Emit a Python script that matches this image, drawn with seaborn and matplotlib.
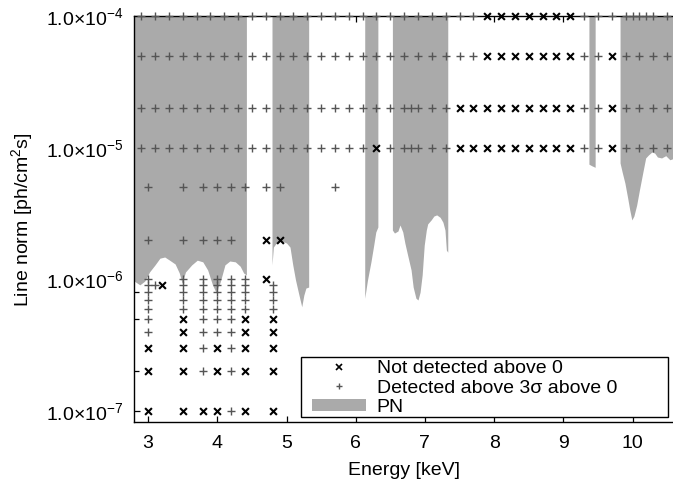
import matplotlib
matplotlib.use("Agg")
import matplotlib.pyplot as plt
import numpy as np
import pandas as pd
import seaborn as sns
from matplotlib.lines import Line2D
from matplotlib.patches import Patch, Rectangle
from matplotlib.ticker import FixedLocator, NullFormatter

sns.set_theme(style="ticks")
plt.rcParams["font.family"] = ["Liberation Sans", "DejaVu Sans"]
plt.rcParams["mathtext.fontset"] = "custom"
plt.rcParams["mathtext.rm"] = "Liberation Sans"
plt.rcParams["mathtext.it"] = "Liberation Sans:italic"
plt.rcParams["mathtext.bf"] = "Liberation Sans:bold"
plt.rcParams["mathtext.default"] = "regular"
plt.rcParams["text.color"] = "black"
plt.rcParams["axes.labelcolor"] = "black"

# ---------------------------------------------------------------- data
# Line normalisations probed (ph/cm^2/s)
norm_levels = [1e-4, 5e-5, 2e-5, 1e-5, 5e-6, 2e-6, 1e-6, 9e-7, 8e-7,
               7e-7, 6e-7, 5e-7, 4e-7, 3e-7, 2e-7, 1e-7]

# energies (keV) of trial lines detected above 3 sigma, one list per norm level
detected_energies = [
    [2.9, 3.1, 3.3, 3.5, 3.7, 3.9, 4.1, 4.3, 4.5, 4.7, 4.9, 5.1, 5.3, 5.5, 5.7,
     5.9, 6.1, 6.3, 6.5, 6.7, 6.9, 7.1, 7.3, 7.5, 7.7,
     9.3, 9.5, 9.7, 9.9, 10.0, 10.1, 10.2, 10.3, 10.5],
    [2.9, 3.1, 3.3, 3.5, 3.7, 3.9, 4.1, 4.3, 4.5, 4.7, 4.9, 5.1, 5.3, 5.5, 5.7,
     5.9, 6.1, 6.3, 6.5, 6.7, 6.9, 7.1, 7.3, 7.5, 7.7,
     9.3, 9.5, 9.9, 10.1, 10.3, 10.5],
    [2.9, 3.1, 3.3, 3.5, 3.7, 3.9, 4.1, 4.3, 4.5, 4.7, 4.9, 5.1, 5.3, 5.5, 5.7,
     5.9, 6.1, 6.3, 6.5, 6.7, 6.8, 6.9, 7.1, 7.3,
     9.3, 9.5, 9.9, 10.1, 10.3, 10.5],
    [2.9, 3.1, 3.3, 3.5, 3.7, 3.9, 4.1, 4.3, 4.5, 4.7, 4.9, 5.1, 5.3, 5.5, 5.7,
     5.9, 6.1, 6.5, 6.7, 6.8, 6.9, 7.1, 7.3,
     9.3, 9.5, 9.9, 10.1, 10.3, 10.5],
    [3.0, 3.5, 3.8, 4.0, 4.2, 4.4, 4.7, 4.9, 5.7],
    [3.0, 3.5, 3.8, 4.0, 4.2],
    [3.0, 3.5, 3.8, 4.0, 4.2, 4.4],
    [3.0, 3.1, 3.5, 3.8, 4.0, 4.2, 4.4, 4.8],
    [3.0, 3.5, 3.8, 4.0, 4.2, 4.4, 4.8],
    [3.0, 3.5, 3.8, 4.0, 4.2, 4.4, 4.8],
    [3.0, 3.5, 3.8, 4.0, 4.2, 4.4, 4.8],
    [3.0, 3.8, 4.0, 4.2],
    [3.0, 3.8, 4.0, 4.2],
    [3.8, 4.2],
    [3.8, 4.2],
    [4.2],
]

# energies (keV) of trial lines not detected above 0, one list per norm level
not_detected_energies = [
    [7.9, 8.1, 8.3, 8.5, 8.7, 8.9, 9.1],
    [7.9, 8.1, 8.3, 8.5, 8.7, 8.9, 9.1, 9.7],
    [7.5, 7.7, 7.9, 8.1, 8.3, 8.5, 8.7, 8.9, 9.1, 9.7],
    [6.3, 7.5, 7.7, 7.9, 8.1, 8.3, 8.5, 8.7, 8.9, 9.1, 9.7],
    [],
    [4.7, 4.9],
    [4.7],
    [3.2],
    [],
    [],
    [],
    [3.5, 4.4, 4.8],
    [3.5, 4.4, 4.8],
    [3.0, 3.5, 4.0, 4.4, 4.8],
    [3.0, 3.5, 4.0, 4.4, 4.8],
    [3.0, 3.5, 3.8, 4.0, 4.4, 4.8],
]

# PN sensitivity: lower bound of the excluded region, per energy band
pn_energy = [
    [2.80, 2.88, 2.95, 3.02, 3.10, 3.17, 3.24, 3.31, 3.39, 3.45, 3.49, 3.54,
     3.63, 3.71, 3.79, 3.86, 3.93, 3.98, 4.04, 4.11, 4.18, 4.26, 4.33, 4.38,
     4.42],
    [4.79, 4.81, 4.86, 4.93, 5.00, 5.05, 5.09, 5.13, 5.18, 5.22, 5.25, 5.28,
     5.32],
    [6.13, 6.17, 6.22, 6.26, 6.29, 6.32],
    [6.53, 6.56, 6.61, 6.64, 6.68, 6.71, 6.75, 6.80, 6.83, 6.87, 6.90, 6.93,
     6.96, 6.99, 7.02, 7.04, 7.09, 7.13, 7.17, 7.22, 7.26, 7.29, 7.31, 7.33],
    [9.37, 9.41, 9.46],
    [9.82, 9.85, 9.89, 9.93, 9.96, 9.99, 10.02, 10.06, 10.10, 10.15, 10.19,
     10.23, 10.28, 10.32, 10.36, 10.42, 10.48, 10.54, 10.61],
]
pn_lower = [
    [9.7e-7, 9.1e-7, 9.7e-7, 1.14e-6, 1.29e-6, 1.45e-6, 1.48e-6, 1.40e-6,
     1.31e-6, 1.12e-6, 9.4e-7, 1.14e-6, 1.29e-6, 1.40e-6, 1.36e-6, 1.18e-6,
     9.1e-7, 8.0e-7, 9.5e-7, 1.29e-6, 1.38e-6, 1.36e-6, 1.26e-6, 1.12e-6,
     1.08e-6],
    [1.29e-6, 1.76e-6, 1.92e-6, 1.96e-6, 1.89e-6, 1.76e-6, 1.29e-6, 9.9e-7,
     7.6e-7, 6.2e-7, 7.6e-7, 8.6e-7, 8.75e-7],
    [7.2e-7, 9.9e-7, 1.36e-6, 1.82e-6, 2.29e-6, 2.50e-6],
    [2.37e-6, 2.25e-6, 2.33e-6, 2.59e-6, 2.29e-6, 1.89e-6, 1.53e-6, 1.18e-6,
     8.75e-7, 7.2e-7, 6.98e-7, 8.0e-7, 1.08e-6, 1.82e-6, 2.37e-6, 2.64e-6,
     2.83e-6, 3.03e-6, 3.09e-6, 2.96e-6, 2.72e-6, 2.37e-6, 1.67e-6, 1.61e-6],
    [7.5e-6, 7.3e-6, 7.1e-6],
    [7.66e-6, 6.54e-6, 5.39e-6, 4.15e-6, 3.37e-6, 2.83e-6, 3.03e-6, 3.67e-6,
     4.78e-6, 6.54e-6, 8.36e-6, 8.81e-6, 9.28e-6, 9.1e-6, 8.5e-6, 8.36e-6,
     8.7e-6, 8.1e-6, 8.36e-6],
]
pn_upper = 1e-4

x_ticks = [3, 4, 5, 6, 7, 8, 9, 10]
y_ticks = [1e-7, 1e-6, 1e-5, 1e-4]
y_tick_labels = [r"1.0×10$^{-7}$", r"1.0×10$^{-6}$", r"1.0×10$^{-5}$",
                 r"1.0×10$^{-4}$"]

# ------------------------------------------------------------- tables
def rows_to_frame(energy_rows):
    recs = [(e, n) for n, row in zip(norm_levels, energy_rows) for e in row]
    return pd.DataFrame(recs, columns=["energy", "norm"])

det_df = rows_to_frame(detected_energies)
nd_df = rows_to_frame(not_detected_energies)

# ------------------------------------------------------------- figure
FS = 14
fig = plt.figure(figsize=(6.73, 4.86), dpi=100)
ax = fig.add_axes([0.19955, 0.13066, 0.80045, 0.83642])
ax.set_yscale("log")

pn_color = "#aaaaaa"
for e, lo in zip(pn_energy, pn_lower):
    ax.fill_between(e, lo, pn_upper, color=pn_color, lw=0, zorder=1)

sns.scatterplot(data=det_df, x="energy", y="norm", marker="+", s=30,
                color="#555555", linewidth=1.0, ax=ax, zorder=3,
                clip_on=False, legend=False)
sns.scatterplot(data=nd_df, x="energy", y="norm", marker="x", s=24,
                color="black", linewidth=1.5, ax=ax, zorder=3,
                clip_on=False, legend=False)

ax.set_xlim(2.8, 10.585)
ax.set_ylim(8.2e-8, 1e-4)

ax.xaxis.set_major_locator(FixedLocator(x_ticks))
ax.set_xticklabels([str(t) for t in x_ticks])
ax.yaxis.set_major_locator(FixedLocator(y_ticks))
ax.set_yticklabels(y_tick_labels)
ax.yaxis.set_minor_locator(FixedLocator([2e-7, 5e-7, 8e-7, 2e-6, 5e-6,
                                         2e-5, 5e-5]))
ax.yaxis.set_minor_formatter(NullFormatter())
ax.xaxis.set_minor_locator(FixedLocator([]))
ax.set_axisbelow(True)

ax.tick_params(axis="both", which="both", direction="in", colors="black",
               labelsize=FS, top=True, right=False, width=0.9)
ax.tick_params(axis="both", which="major", length=4.5)
ax.tick_params(axis="both", which="minor", length=3.5)
ax.tick_params(axis="x", pad=9)
ax.tick_params(axis="y", pad=8)

for side in ("left", "top", "bottom"):
    ax.spines[side].set_color("black")
    ax.spines[side].set_linewidth(1.0)
ax.spines["right"].set_visible(False)

ax.set_xlabel("Energy [keV]", fontsize=FS, labelpad=7, color="black")
ax.set_ylabel("Line norm [ph/cm$^2$s]", fontsize=FS, labelpad=8,
              color="black")

# legend box
box = Rectangle((0.3095, 0.0128), 0.6805, 0.149, transform=ax.transAxes,
                facecolor="white", edgecolor="black", lw=1.0, zorder=4)
ax.add_patch(box)
handles = [
    Line2D([], [], ls="none", marker="x", color="black", markersize=4.5,
           markeredgewidth=1.2),
    Line2D([], [], ls="none", marker="+", color="#555555", markersize=5,
           markeredgewidth=1.0),
    Patch(facecolor=pn_color, edgecolor="none"),
]
labels = ["Not detected above 0", "Detected above 3σ above 0", "PN"]
leg = ax.legend(handles, labels, loc="upper left",
                bbox_to_anchor=(0.330, 0.1535), frameon=False, borderpad=0,
                borderaxespad=0, handlelength=2.75, handleheight=0.55,
                handletextpad=0.57, labelspacing=0.13, fontsize=FS)
leg.set_zorder(5)
for t in leg.get_texts():
    t.set_color("black")

fig.savefig("out.png", dpi=100)
